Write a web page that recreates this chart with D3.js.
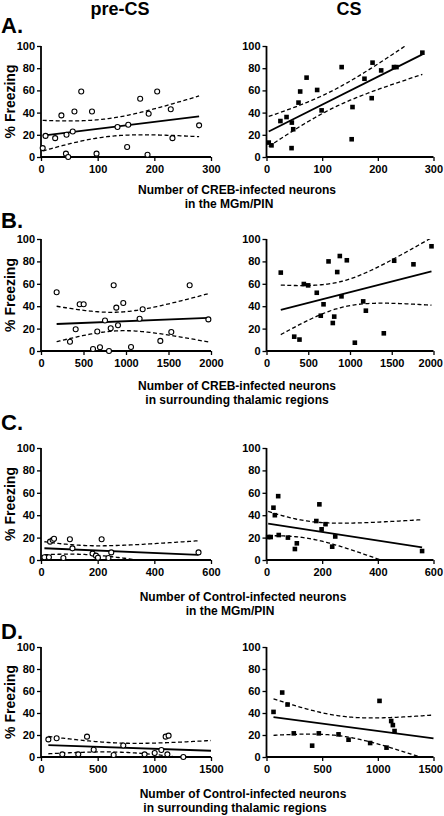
<!DOCTYPE html>
<html><head><meta charset="utf-8">
<script src="https://cdn.jsdelivr.net/npm/d3@7"></script>
<style>
body{margin:0;background:#fff;}
svg text{font-family:"Liberation Sans",Arial,Helvetica,sans-serif;font-weight:bold;fill:#000;}
</style></head>
<body><svg id="chart" width="444" height="816"></svg>
<script>
// ---------- data ----------
const columnTitles = ["pre-CS", "CS"];
const panelLetters = ["A.", "B.", "C.", "D."];
const yLabel = "% Freezing";
const yTicks = [0, 20, 40, 60, 80, 100];
const xTicksA = [0, 100, 200, 300];
const xTicksB = [0, 500, 1000, 1500, 2000];
const xTicksC = [0, 200, 400, 600];
const xTicksD = [0, 500, 1000, 1500];
const xTitlesA = ["Number of CREB-infected neurons", "in the MGm/PIN"];
const xTitlesB = ["Number of CREB-infected neurons", "in surrounding thalamic regions"];
const xTitlesC = ["Number of Control-infected neurons", "in the MGm/PIN"];
const xTitlesD = ["Number of Control-infected neurons", "in surrounding thalamic regions"];

const aPreX = [3, 8, 25, 36, 45, 56, 59, 71, 90, 135, 154, 152, 175, 190, 205, 229, 232, 279, 44, 48, 98, 188];
const aPreY = [8, 19, 17, 37.5, 20, 23, 41, 59, 41, 27, 29, 9, 52.5, 39, 59, 43, 17, 28.5, 3, 0, 3, 2];
const aCsX = [4, 9, 25, 36, 45.5, 48, 45, 57.5, 60.5, 72, 91, 99, 135, 153, 154.5, 176, 190.5, 189, 206, 229, 233.5, 280];
const aCsY = [13, 10.5, 32.4, 36, 31, 25, 8, 49, 59, 71.5, 60.4, 42, 81, 16, 45, 70.5, 85, 53, 78, 81, 81, 94];

const bPreX = [184, 408, 455, 502, 855, 886, 968, 753, 906, 820, 662, 1196, 1160, 1533, 1749, 1969, 341, 612, 694, 800, 1059, 1404];
const bPreY = [52.4, 19.4, 41.7, 41.7, 58.7, 38.7, 42.9, 27.2, 23, 20.3, 17.4, 37.3, 28.8, 17, 58.7, 28.2, 8.3, 1.8, 3.3, 0, 3.6, 9];
const bCsX = [171, 332, 395, 447, 499, 602, 683, 650, 743, 811, 794, 847, 878, 898, 962, 1158, 1190, 1405, 1529, 1760, 1976, 1058];
const bCsY = [70, 12.8, 10.2, 59.8, 58.6, 52, 41.7, 31.5, 80, 30.7, 25, 70.5, 84.8, 48.8, 81, 44.3, 36, 15.8, 80.6, 77.4, 93.5, 7.4];

const cPreX = [12, 28, 32, 41, 46, 79, 102, 111, 182, 194, 201, 214, 238, 248, 556];
const cPreY = [2.4, 2.4, 16.4, 17.9, 19, 1.8, 18.5, 10.4, 5.7, 3.9, 2, 18.5, 1.8, 6.8, 6.8];
const cCsX = [6, 15, 25, 30, 42, 44, 77, 102, 109, 179, 190, 198, 212, 236, 247, 559];
const cCsY = [20.5, 20.5, 46.7, 40, 57, 22.3, 20, 9.8, 14.9, 34.8, 49.7, 27.4, 32, 11.9, 21, 8];

const dPreX = [65, 138, 188, 329, 406, 465, 641, 726, 914, 1003, 1062, 1100, 1126, 1115, 1256];
const dPreY = [16, 17, 2.4, 2.4, 18.5, 6.6, 1.8, 10.5, 2.4, 3.6, 6.3, 18.5, 19.4, 2.4, 0];
const dCsX = [63, 141, 189, 245, 410, 470, 647, 737, 931, 1015, 1078, 1120, 1135, 1150];
const dCsY = [41, 58.6, 47.7, 21.5, 10.3, 21.5, 20.6, 15.7, 12.7, 51, 8.5, 32.7, 29, 23.6];

// ---------- layout ----------
const svg = d3.select("#chart");
const W = 444;
const colX = [[41, 211], [266.5, 433.5]];
const rowY = [[46, 157], [239, 351], [448, 560], [647, 757]];
const rowsDef = [
  {ticks: xTicksA, titles: xTitlesA, pre: [aPreX, aPreY], cs: [aCsX, aCsY], extendFit: false, titleY: 194, titleX: [237, 229]},
  {ticks: xTicksB, titles: xTitlesB, pre: [bPreX, bPreY], cs: [bCsX, bCsY], extendFit: false, titleY: 390, titleX: [237, 237]},
  {ticks: xTicksC, titles: xTitlesC, pre: [cPreX, cPreY], cs: [cCsX, cCsY], extendFit: false, titleY: 601, titleX: [243, 230]},
  {ticks: xTicksD, titles: xTitlesD, pre: [dPreX, dPreY], cs: [dCsX, dCsY], extendFit: true, titleY: 798, titleX: [243, 235]}
];
const letterY = [33, 228, 430, 639];

// headers
svg.append("text").attr("x", 120).attr("y", 15).attr("text-anchor", "middle").attr("font-size", 18).text(columnTitles[0]);
svg.append("text").attr("x", 349).attr("y", 15).attr("text-anchor", "middle").attr("font-size", 18).text(columnTitles[1]);

// t quantile (0.975) via Cornish-Fisher expansion
function tCrit(df) {
  const z = 1.959964;
  const g1 = (z ** 3 + z) / 4;
  const g2 = (5 * z ** 5 + 16 * z ** 3 + 3 * z) / 96;
  const g3 = (3 * z ** 7 + 19 * z ** 5 + 17 * z ** 3 - 15 * z) / 384;
  return z + g1 / df + g2 / df ** 2 + g3 / df ** 3;
}
function fit(xs, ys) {
  const n = xs.length, mx = d3.mean(xs), my = d3.mean(ys);
  let sxx = 0, sxy = 0;
  xs.forEach((x, i) => { sxx += (x - mx) ** 2; sxy += (x - mx) * (ys[i] - my); });
  const b = sxy / sxx, a = my - b * mx;
  let sse = 0;
  xs.forEach((x, i) => { sse += (ys[i] - a - b * x) ** 2; });
  const s = Math.sqrt(sse / (n - 2)), t = tCrit(n - 2);
  return {a, b, band: x => t * s * Math.sqrt(1 / n + (x - mx) ** 2 / sxx)};
}

let clipId = 0;
rowsDef.forEach((row, ri) => {
  const [yt, yb] = rowY[ri];
  svg.append("text").attr("x", 1).attr("y", letterY[ri]).attr("font-size", 22).text(panelLetters[ri]);
  svg.append("text").attr("transform", `translate(15,${(yt + yb) / 2}) rotate(-90)`)
    .attr("text-anchor", "middle").attr("font-size", 14).text(yLabel);
  row.titles.forEach((t, k) => {
    svg.append("text").attr("x", row.titleX[k]).attr("y", row.titleY + k * 14)
      .attr("text-anchor", "middle").attr("font-size", 12).text(t);
  });
  [row.pre, row.cs].forEach((dat, ci) => {
    const xmax = row.ticks[row.ticks.length - 1];
    const x = d3.scaleLinear().domain([0, xmax]).range(colX[ci]);
    const y = d3.scaleLinear().domain([0, 100]).range([yb, yt]);
    const g = svg.append("g");
    const id = "clip" + (clipId++);
    g.append("clipPath").attr("id", id).append("rect")
      .attr("x", colX[ci][0]).attr("y", yt).attr("width", colX[ci][1] - colX[ci][0] + 4).attr("height", yb - yt);
    // regression & CI bands
    const [xs, ys] = dat;
    const f = fit(xs, ys);
    const x0 = d3.min(xs), x1 = row.extendFit ? xmax : d3.max(xs);
    const pts = d3.range(0, 101).map(i => x0 + (x1 - x0) * i / 100);
    const line = d3.line().x(d => x(d[0])).y(d => y(d[1]));
    const lg = g.append("g").attr("clip-path", `url(#${id})`);
    lg.append("path").attr("d", line(pts.map(p => [p, f.a + f.b * p + f.band(p)])))
      .attr("fill", "none").attr("stroke", "#000").attr("stroke-width", 1.3).attr("stroke-dasharray", "4,2.5");
    lg.append("path").attr("d", line(pts.map(p => [p, f.a + f.b * p - f.band(p)])))
      .attr("fill", "none").attr("stroke", "#000").attr("stroke-width", 1.3).attr("stroke-dasharray", "4,2.5");
    lg.append("path").attr("d", line([[x0, f.a + f.b * x0], [x1, f.a + f.b * x1]]))
      .attr("fill", "none").attr("stroke", "#000").attr("stroke-width", 1.8);
    // axes
    const ya = g.append("g").attr("transform", `translate(${colX[ci][0]},0)`)
      .call(d3.axisLeft(y).tickValues(yTicks).tickSize(4).tickPadding(2).tickFormat(d3.format("d")));
    const xa = g.append("g").attr("transform", `translate(0,${yb})`)
      .call(d3.axisBottom(x).tickValues(row.ticks).tickSize(4).tickPadding(4).tickFormat(d3.format("d")));
    [ya, xa].forEach(a => {
      a.select(".domain").attr("stroke", "#000").attr("stroke-width", 1.8);
      a.selectAll(".tick line").attr("stroke", "#000").attr("stroke-width", 1.3);
      a.selectAll(".tick text").attr("font-size", 11).attr("font-family", null).attr("fill", "#000");
    });
    ya.select(".domain").attr("d", `M0,${yb}V${yt}`);
    xa.select(".domain").attr("d", `M${colX[ci][0]},0H${colX[ci][1]}`);
    // keep tick labels inside the page
    xa.selectAll(".tick").each(function () {
      const tk = d3.select(this), txt = tk.select("text");
      const bb = this.getBBox();
      const m = this.getCTM();
      const right = m.e + bb.x + bb.width;
      if (right > W - 1) txt.attr("dx", (W - 1 - right) + "px");
    });
    // points
    if (ci === 0) {
      g.selectAll("circle.pt").data(xs.map((v, i) => [v, ys[i]])).join("circle")
        .attr("cx", d => x(d[0])).attr("cy", d => y(d[1])).attr("r", 2.5)
        .attr("fill", "#fff").attr("stroke", "#000").attr("stroke-width", 1.1);
    } else {
      g.selectAll("rect.pt").data(xs.map((v, i) => [v, ys[i]])).join("rect")
        .attr("x", d => x(d[0]) - 2.3).attr("y", d => y(d[1]) - 2.3).attr("width", 4.6).attr("height", 4.6)
        .attr("fill", "#000");
    }
  });
});
</script></body></html>
